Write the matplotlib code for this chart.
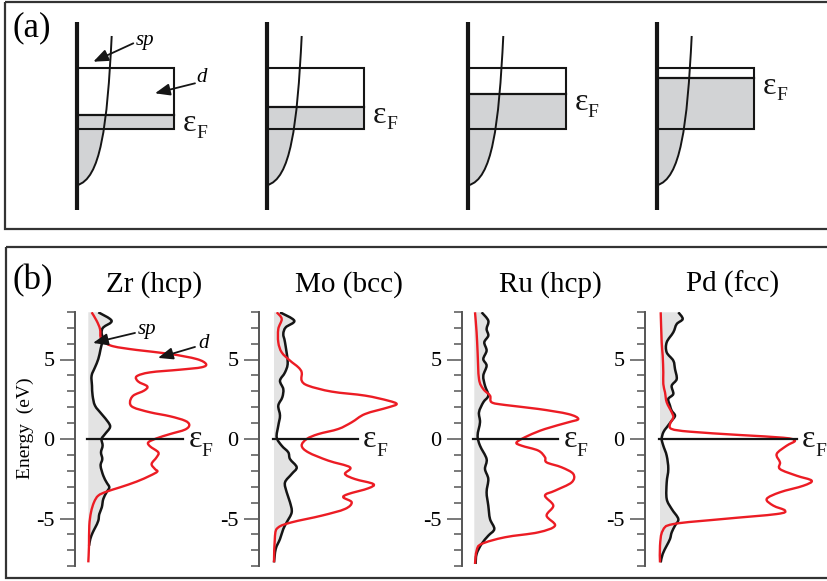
import numpy as np
import matplotlib.pyplot as plt
from matplotlib.patches import Rectangle, PathPatch
from matplotlib.path import Path

plt.rcParams['font.family'] = ['Liberation Serif', 'DejaVu Serif']

# ---- (a) schematic band filling ----
# energies in arbitrary units, d band from 0 to 6.1
d_bottom = 0.0
d_top = 6.1
d_width = 9.75
fermi_levels = [1.43, 2.26, 3.5, 5.16]
# free-electron-like sp band, drawn as a cubic Bezier (DOS, energy)
sp_ctrl = [(0.0, -5.6), (2.4, -5.0), (3.05, 0.33), (3.5, 9.33)]
axis_span = (-8.07, 10.76)

# ---- (b) calculated DOS, energy in eV relative to E_F ----
metals = ['Zr (hcp)', 'Mo (bcc)', 'Ru (hcp)', 'Pd (fcc)']

zr_sp_E = [7.97, 7.44, 7.02, 6.71, 6.29, 5.66, 5.03, 4.51, 3.98, 3.35, 2.73, 2.10, 1.57, 1.05,
           0.73, 0.31, 0.0, -0.42, -0.84, -1.26, -1.68, -2.31, -2.73, -3.04, -3.35, -3.77,
           -4.3, -4.72, -5.14, -5.56, -5.87, -6.29, -6.71]
zr_sp = [1.0, 2.33, 1.5, 1.33, 1.43, 1.23, 1.0, 0.67, 0.33, 0.37, 0.43, 0.67, 1.33, 2.0,
         2.17, 1.67, 1.33, 1.43, 1.27, 1.4, 1.23, 1.5, 1.83, 2.1, 1.83, 1.5,
         1.35, 1.1, 1.0, 0.7, 0.45, 0.2, 0.08]
zr_d_E = [7.97, 7.44, 6.92, 6.39, 6.12, 5.83, 5.60, 5.35, 5.03, 4.72, 4.51, 4.36, 4.19, 3.94,
          3.61, 3.31, 3.04, 2.73, 2.31, 1.99, 1.68, 1.43, 1.15, 0.88, 0.59, 0.31, 0.04,
          -0.21, -0.46, -0.84, -1.15, -1.57, -1.89, -2.05, -2.31, -2.68, -3.04, -3.31,
          -3.56, -3.98, -4.61, -5.45, -6.71, -7.76]
zr_d = [0.33, 0.83, 1.17, 1.23, 1.5, 2.5, 4.83, 8.17, 10.83, 11.77, 11.33, 9.17, 6.17, 4.83,
        5.0, 5.9, 5.57, 4.5, 4.17, 4.5, 6.17, 8.17, 9.67, 10.1, 9.67, 8.17, 6.83,
        6.0, 6.17, 7.0, 6.83, 6.33, 6.67, 6.9, 6.17, 4.83, 3.17, 1.83,
        1.0, 0.57, 0.27, 0.1, 0.07, 0.0]

mo_sp_E = [7.97, 7.44, 7.02, 6.6, 6.08, 4.82, 4.19, 3.67, 3.14, 2.62, 2.10, 1.47, 0.84, 0.10,
           -0.42, -0.84, -1.26, -1.78, -2.2, -2.73, -3.35, -3.98, -4.61, -5.24, -5.66,
           -6.29, -6.92, -7.76]
mo_sp = [0.6, 2.03, 1.17, 0.93, 1.1, 1.37, 1.1, 0.6, 0.93, 0.83, 0.43, 0.6, 0.43, 0.27,
         0.77, 1.43, 1.6, 2.27, 1.77, 1.1, 1.27, 1.6, 1.77, 1.27, 0.93,
         0.6, 0.17, 0.0]
mo_d_E = [7.97, 7.55, 6.92, 6.08, 5.45, 4.93, 4.51, 4.19, 3.67, 3.35, 2.98, 2.73, 2.41, 2.2,
          1.99, 1.57, 1.05, 0.63, 0.31, 0.0, -0.42, -0.84, -1.36, -1.78, -2.2, -2.52,
          -2.83, -3.1, -3.46, -3.67, -3.98, -4.4, -4.82, -5.24, -5.56, -6.08, -7.76]
mo_d = [0.27, 0.77, 0.43, 0.43, 0.77, 1.6, 2.43, 2.77, 2.77, 3.43, 5.77, 9.1, 11.43, 12.27,
        11.43, 9.1, 7.77, 6.43, 4.43, 3.27, 2.77, 3.43, 5.43, 7.6, 7.1, 8.1,
        9.93, 9.43, 7.43, 6.93, 7.77, 7.1, 4.77, 1.77, 0.43, 0.1, 0.0]

ru_sp_E = [7.97, 7.44, 6.92, 6.5, 6.08, 5.56, 5.03, 4.61, 3.98, 3.35, 2.73, 2.31, 1.68, 1.05,
           0.21, -0.42, -1.26, -1.89, -2.52, -3.35, -4.19, -5.03, -5.66, -6.08, -6.6,
           -7.23, -7.86]
ru_sp = [0.73, 1.4, 1.23, 1.4, 1.0, 1.23, 0.9, 1.23, 0.9, 1.07, 1.4, 0.9, 0.47, 0.57,
         0.33, 0.57, 1.23, 1.07, 1.4, 1.23, 1.4, 1.57, 2.0, 1.4, 0.73,
         0.23, 0.13]
ru_d_E = [7.97, 6.71, 5.45, 3.77, 3.14, 2.73, 2.31, 2.14, 1.89, 1.57, 1.26, 1.05, 0.63, 0.21,
          -0.21, -0.42, -0.73, -1.15, -1.47, -1.78, -2.2, -2.73, -3.25, -3.56, -4.19,
          -4.82, -5.45, -5.87, -6.18, -6.6, -7.02, -7.86]
ru_d = [0.07, 0.23, 0.33, 0.47, 0.9, 1.57, 1.73, 3.07, 6.4, 9.4, 10.4, 9.4, 7.07, 5.4,
        4.23, 4.73, 6.4, 7.07, 7.23, 8.73, 9.9, 9.73, 8.07, 7.07, 7.9,
        7.23, 8.07, 6.4, 3.07, 0.73, 0.23, 0.07]

pd_sp_E = [7.97, 7.55, 7.23, 6.71, 6.08, 5.45, 4.93, 4.4, 3.77, 3.35, 2.83, 2.52, 2.1, 1.78,
           1.47, 1.15, 0.73, 0.42, 0.0, -0.42, -1.05, -1.89, -2.73, -3.77, -4.4, -5.03,
           -5.45, -5.87, -6.29, -6.71, -7.23, -7.76]
pd_sp = [1.83, 2.27, 1.67, 1.33, 0.67, 0.67, 1.33, 1.5, 1.67, 1.17, 1.33, 0.83, 1.0, 1.17,
         1.5, 1.17, 0.67, 0.33, 0.17, 0.33, 0.67, 0.83, 0.67, 0.67, 1.17, 1.83,
         1.5, 1.17, 1.0, 0.67, 0.27, 0.07]
pd_d_E = [7.97, 6.08, 5.24, 4.19, 3.46, 2.94, 2.31, 1.68, 1.36, 0.94, 0.63, 0.46, 0.25, 0.08,
          -0.1, -0.42, -0.94, -1.47, -1.89, -2.31, -2.62, -2.94, -3.35, -3.77, -4.19,
          -4.5, -4.72, -5.03, -5.35, -5.77, -6.71, -7.76]
pd_d = [0.07, 0.17, 0.27, 0.33, 0.33, 0.5, 0.67, 1.17, 1.33, 1.0, 1.17, 3.0, 8.0, 12.33,
        13.5, 12.67, 11.67, 12.0, 12.0, 13.67, 15.17, 14.33, 12.0, 10.67, 11.33,
        12.5, 11.67, 6.33, 1.33, 0.27, 0.0, 0.0]

sp_E = [zr_sp_E, mo_sp_E, ru_sp_E, pd_sp_E]
sp_dos = [zr_sp, mo_sp, ru_sp, pd_sp]
d_E = [zr_d_E, mo_d_E, ru_d_E, pd_d_E]
d_dos = [zr_d, mo_d, ru_d, pd_d]
fermi_line_end = [9.5, 8.4, 8.4, 13.7]

major_ticks = [-5, 0, 5]
tick_labels = ['-5', '0', '5']
minor_ticks = [-8, -7, -6, -4, -3, -2, -1, 1, 2, 3, 4, 6, 7, 8]

# ---- layout (pixels) ----
W, H = 827, 581
sch_x = [76.7, 266.7, 468.3, 656.7]
dos_spine_x = [75, 259, 462, 645]
dos_zero_x = [88.3, 274, 474.3, 660]
title_x = [154, 349, 550, 733]

GRAY_A = '#d2d3d5'
GRAY_B = '#e3e3e3'
RED = '#ec1c24'
INK = '#151515'


def box(left, top, width, height):
    return [left / W, 1 - (top + height) / H, width / W, height / H]


def smooth_path(x, y, close_to_axis=False):
    # Catmull-Rom through the points, handed to matplotlib as cubic Beziers
    pts = np.column_stack([x, y]).astype(float)
    n = len(pts)
    verts = [pts[0]]
    codes = [Path.MOVETO]
    for i in range(n - 1):
        p0 = pts[max(i - 1, 0)]
        p1 = pts[i]
        p2 = pts[i + 1]
        p3 = pts[min(i + 2, n - 1)]
        verts += [p1 + (p2 - p0) / 6, p2 - (p3 - p1) / 6, p2]
        codes += [Path.CURVE4] * 3
    if close_to_axis:
        verts += [(0, pts[-1, 1]), (0, pts[0, 1]), pts[0]]
        codes += [Path.LINETO, Path.LINETO, Path.CLOSEPOLY]
    return Path(verts, codes)


def eps_label(ax, x, y, dx, dy, drop):
    # epsilon with a lowered F, offsets given in pixels
    ax.annotate('ε', (x, y), xytext=(dx * 0.72, dy * 0.72), textcoords='offset points',
                fontsize=23, ha='left', va='baseline', color=INK)
    ax.annotate('F', (x, y), xytext=((dx + 13) * 0.72, (dy - drop) * 0.72),
                textcoords='offset points', fontsize=14, ha='left', va='baseline', color=INK)


def arrow(ax, tail, tip):
    ax.annotate('', xy=tip, xytext=tail,
                arrowprops=dict(arrowstyle='-|>,head_length=0.45,head_width=0.18',
                                mutation_scale=20, lw=1.3, color=INK,
                                shrinkA=0, shrinkB=0))


fig = plt.figure(figsize=(W / 100, H / 100), dpi=100)

# frames and panel letters
bg = fig.add_axes([0, 0, 1, 1])
bg.set_xlim(0, W)
bg.set_ylim(H, 0)
bg.axis('off')
bg.add_patch(Rectangle((5, 1.5), 840, 227, fill=False, ec='#333333', lw=1.6))
bg.add_patch(Rectangle((5.5, 247), 840, 331, fill=False, ec='#333333', lw=1.6))
bg.text(31.5, 28, '(a)', fontsize=25, ha='center', va='center')
bg.text(32.5, 281, '(b)', fontsize=25, ha='center', va='center')
bg.text(25, 428, 'Energy  (eV)', fontsize=14, rotation=90, ha='center', va='center')

# (a) four schematic fillings of the d band
bez_codes = [Path.MOVETO, Path.CURVE4, Path.CURVE4, Path.CURVE4]
for i, ef in enumerate(fermi_levels):
    ax = fig.add_axes(box(sch_x[i] - 5, 20, 150, 195))
    ax.set_xlim(-0.5, 14.5)
    ax.set_ylim(-8.57, 10.93)
    ax.axis('off')

    top = sp_ctrl[-1]
    sp_area = Path(sp_ctrl + [(0, top[1]), sp_ctrl[0]],
                   bez_codes + [Path.LINETO, Path.CLOSEPOLY])
    fill = PathPatch(sp_area, fc=GRAY_A, ec='none')
    ax.add_patch(fill)
    fill.set_clip_path(Rectangle((-1, -20), 20, 20 + ef, transform=ax.transData))

    ax.add_patch(Rectangle((0, d_bottom), d_width, ef - d_bottom, fc=GRAY_A, ec='none'))
    ax.add_patch(Rectangle((0, d_bottom), d_width, d_top - d_bottom,
                           fill=False, ec=INK, lw=1.5))
    ax.plot([0, d_width], [ef, ef], color=INK, lw=1.6)
    ax.add_patch(PathPatch(Path(sp_ctrl, bez_codes), fill=False, ec=INK, lw=1.4))
    ax.plot([0, 0], axis_span, color=INK, lw=3, solid_capstyle='butt')

    eps_label(ax, d_width, ef, 9, -16, 6.5)

    if i == 0:
        arrow(ax, (5.66, 8.6), (1.66, 6.76))
        ax.text(5.9, 8.43, 'sp', fontsize=15, style='italic', ha='left', va='baseline')
        arrow(ax, (11.83, 4.6), (7.83, 3.6))
        ax.text(12.0, 4.76, 'd', fontsize=15, style='italic', ha='left', va='baseline')

# (b) projected densities of states
for i, name in enumerate(metals):
    off = (dos_zero_x[i] - dos_spine_x[i]) / 10
    ax = fig.add_axes(box(dos_spine_x[i], 311.8, 175, 254.4))
    ax.patch.set_visible(False)
    ax.set_xlim(-off, -off + 17.5)
    ax.set_ylim(-8, 8)
    for s in ['top', 'right', 'bottom']:
        ax.spines[s].set_visible(False)
    ax.spines['left'].set_color('#555555')
    ax.spines['left'].set_linewidth(1.4)
    ax.set_xticks([])
    ax.set_yticks(major_ticks, labels=tick_labels)
    ax.set_yticks(minor_ticks, minor=True)
    ax.tick_params(axis='y', which='major', length=10.8, width=1.1, color='#555555',
                   labelsize=16, pad=4)
    ax.tick_params(axis='y', which='minor', length=5.8, width=1.1, color='#555555')

    ax.add_patch(PathPatch(smooth_path(sp_dos[i], sp_E[i], close_to_axis=True),
                           fc=GRAY_B, ec='none'))
    ax.add_patch(PathPatch(smooth_path(sp_dos[i], sp_E[i]), fill=False, ec=INK,
                           lw=1.8, joinstyle='round'))
    ax.plot([-0.15, fermi_line_end[i]], [0, 0], color=INK, lw=1.6)
    ax.add_patch(PathPatch(smooth_path(d_dos[i], d_E[i]), fill=False, ec=RED,
                           lw=1.7, joinstyle='round'))

    eps_label(ax, fermi_line_end[i], 0, 5, -8, 9.5)
    bg.text(title_x[i], 292, name, fontsize=21, ha='center', va='baseline')

    if i == 0:
        arrow(ax, (4.67, 6.67), (0.47, 6.04))
        ax.text(4.9, 6.6, 'sp', fontsize=15, style='italic', ha='left', va='baseline')
        arrow(ax, (10.67, 5.79), (6.97, 5.1))
        ax.text(10.97, 5.72, 'd', fontsize=15, style='italic', ha='left', va='baseline')

fig.savefig('out.png', dpi=100)
